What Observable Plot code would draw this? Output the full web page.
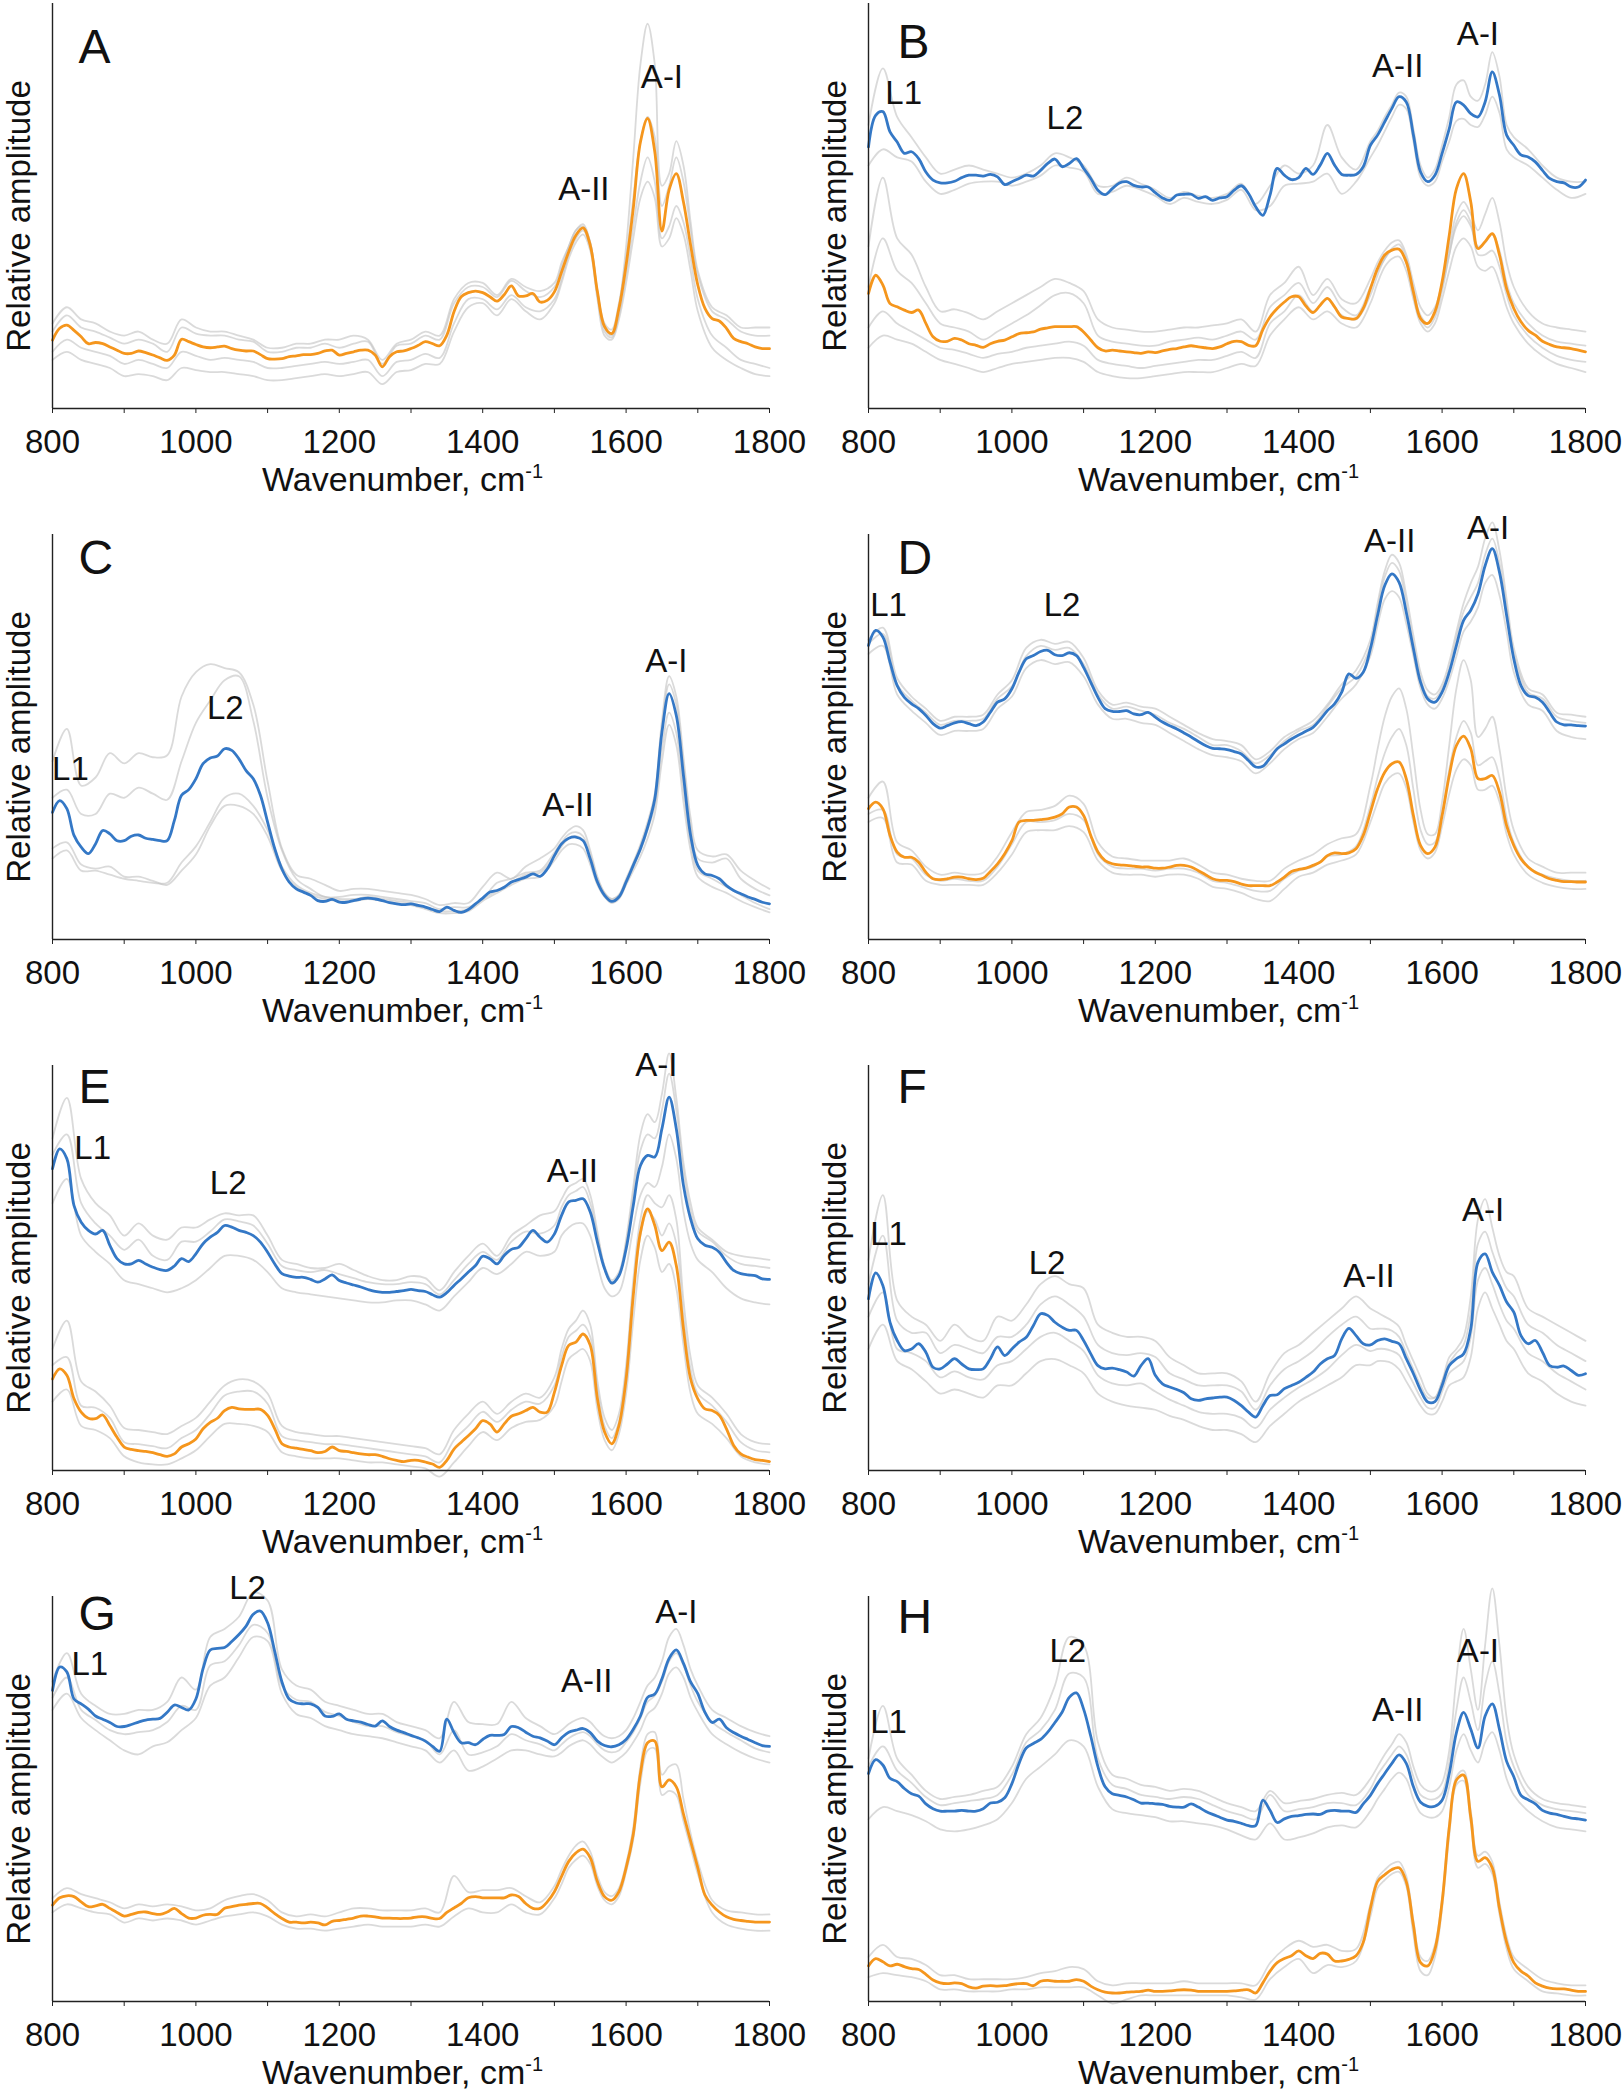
<!DOCTYPE html>
<html><head><meta charset="utf-8">
<script src="https://cdn.jsdelivr.net/npm/d3@7"></script>
<script src="https://cdn.jsdelivr.net/npm/@observablehq/plot@0.6"></script>
<style>
body{margin:0;background:#fff;}
#chart{position:relative;width:1623px;height:2100px;background:#fff;}
.panel{position:absolute;}
.panel svg{overflow:visible;}
</style></head><body><div id="chart"></div>
<script>
// Wavenumber grids (cm-1): mean spectra every 10, individual spectra on a coarser grid
const WN = d3.range(800, 1801, 10);
const GX = [...d3.range(800, 1501, 20), ...d3.range(1510, 1701, 10), ...d3.range(1720, 1801, 20)];

// ---- Panel A ----
const aO = [16.9,19.8,20.6,19.3,17.7,16.0,16.3,16.0,15.2,14.4,13.6, 13.6,14.2,13.8,13.2,12.5,11.9,13.2,17.1,16.5,15.8, 15.2,15.0,15.2,15.4,14.8,14.4,14.2,14.2,13.3,12.3, 12.2,12.3,12.8,13.0,13.3,13.3,13.6,14.2,14.4,13.2, 13.6,14.0,14.4,14.4,13.2,10.3,12.8,14.0,14.2,14.8, 15.6,16.5,16.0,15.5,18.1,23.9,27.6,28.6,29.0,28.6, 27.6,26.5,28.1,30.3,27.8,27.8,28.4,26.3,26.7,28.8, 33.7,38.7,42.8,44.6,40.3,28.8,20.2,18.5,24.7,35.4, 49.4,65.8,71.6,63.4,43.8,54.0,58.0,51.0,40.3,30.5, 24.7,22.2,21.6,19.8,17.3,16.5,16.0,15.2,14.8,14.8];
const gA1 = [21,25,22,21,19,18,19,17,16,22, 20,19,19,18,17,15,15,16,16,17, 17,18,17,12,16,17,19,18,27,31, 31,28,32,30,29,31, 36,40,44,45,41,29,20,18,25,40, 62,85,95,85,55,58,66,60,46,34, 25,23,20,20,20];
const gA2 = [14,17,15,14,13,11,12,11,10,14, 13,12,12.5,12,11.5,10,10,10.5,11,11.5, 11,11.5,12,8,11.5,12,13.5,12.5,21,27, 27,24.5,28,25,24,27, 32,38,42,44,40,28,19,17.5,23,33, 45,56,62,56,42,45,50,46,37,27, 18,15,12,11,10];
const gA3 = [12,14,12,11,10,8,8.5,8,7,10, 9.5,9,9,8.5,8,7,7,7.5,8,8.5, 8,8.5,9,6,9,9.5,11,11,19,25, 26,23,27,24,22,26, 31,37,41,43,39,27,18,17,22,31, 42,52,56,52,40,42,47,43,34,24, 15,12,10,8.5,8];
const gA4 = [19,23,20,19,17.5,16,17,16,14,20, 18.5,18,18,17,16.5,14,14,15,15,16, 15,16,16.5,11,15.5,16,18,17,26,30, 30,27.5,31.5,29,27.5,30, 35,40,44,45.5,41,29,21,19.5,26,37, 52,66,72,67,50,55,62,56,44,33, 24,22,19,18,18];
const labA = [["A-II",1541,51.4],["A-I",1650,79.2]];

// ---- Panel B ----
const bB = [64.6,72.4,73.3,68.3,65.8,63.0,63.4,61.7,58.4,56.4,55.7, 55.7,56.1,57.0,57.6,57.6,57.4,57.8,57.2,55.3,56.0, 56.8,57.6,57.4,58.8,60.5,61.6,59.7,60.5,61.7,59.3, 56.8,53.9,52.8,54.3,55.7,56.0,55.1,54.7,54.7,53.3, 52.0,51.4,52.7,52.9,52.9,51.9,52.3,51.4,52.0,52.3, 53.9,55.0,53.1,49.8,47.7,52.7,59.3,57.6,56.5,57.0, 59.3,57.8,60.1,63.0,60.1,57.8,57.6,57.8,59.7,65.0, 67.5,70.8,74.1,77.0,75.7,67.5,58.4,56.0,57.6,63.0, 69.1,75.7,74.9,72.8,72.0,75.7,83.1,77.4,67.5,65.0, 62.6,62.1,60.9,58.8,56.8,56.0,55.7,54.7,54.7,56.4];
const bO = [28.4,32.9,30.5,25.9,25.1,24.3,23.7,24.3,21.0,17.7,16.6, 16.6,17.3,16.9,16.0,15.6,15.1,16.0,16.6,16.9,17.7, 18.5,18.7,18.9,19.6,19.9,20.2,20.2,20.2,20.2,18.9, 16.9,15.0,14.2,14.4,14.2,14.0,13.8,13.6,14.0,13.8, 14.2,14.6,14.8,15.2,15.5,15.2,15.0,14.8,15.2,16.0, 16.6,16.5,15.6,15.5,19.5,22.6,24.7,26.3,27.6,27.6, 25.3,23.7,25.5,27.2,25.1,22.6,22.2,22.2,24.7,29.6, 34.6,37.9,39.1,39.3,36.2,28.8,22.2,21.0,23.9,31.3, 42.8,54.3,58.0,51.0,39.5,41.2,43.2,37.9,29.6,24.7, 21.4,19.3,18.1,16.6,15.8,15.2,15.0,14.8,14.4,14.0];
const gB1 = [70,84,72,67,62,58,59,60,59,58, 57,58,60,63,62,60,55,55,57,55.5, 54,52,53.5,52.5,52,53,55.5,50.5,55,60, 58,60,70,62,59,66, 68.5,72,75,78,77,69,60,57,59,65, 72,80,81,77,76,80,88,82,70,67, 64,60,57,56,56];
const gB2 = [60,64,62,61,56,53,54,55.5,56,56, 55,56,57.5,60,59.5,58.5,53,53.5,55,54, 52.5,50.5,52,51,50.5,51.5,54,49,50,55, 55.5,56,58,53,56,62, 65,68.5,72,75,74,66,57,55,56,61, 66,71,71.5,70,69.5,72.5,77,73,64,62, 60,57,54,52,53];
const gB3 = [40,57,42,38,30,24,24.5,23.5,22,24, 26,28,30,32,31,29,22,20,19.5,19, 19,19.5,20,20,20.5,21,22,19,28,31, 35,28,32,27,26,32, 36,39,41,41.5,38,31,25,23,25,31, 40,48,51,48,44,48,52,46,36,30, 24,21,20,19.5,19];
const gB4 = [30,42,34,31,26,21,20,19,17,19, 21,23,25.5,28,28.5,26,18,16.5,16,15.5, 15.5,16.5,17,17.5,17,18,19,17,25,28, 31,26,30,25,23,30, 34,37,39.5,40.5,37,29,23,21,24,30, 38,45,47.5,45,40,41,43,39,31,26, 21,18,16.5,16,15.5];
const gB5 = [15,18,17,16,14,12,11,10,9,10, 11,11.5,12,12.5,12.5,11.5,9,8,7.5,7.5, 8,8.5,9,9,9,10,11,10.5,18,22, 25,22,24,21,20,26, 31,35,37,37.5,34,27,21,19,21,27, 34,40,42,40,35,34,35,31,25,21, 16,13,11,10,9];
const gB6 = [20,24,21,19,17,15,14.5,13.5,12.5,13.5, 14,15,15.5,16,16.5,15.5,12,11,10.5,10, 10.5,11,11.5,12,12,13,14,12.5,21,24, 28,24,27,23,22,28, 33,37,39,39.5,36,28,22,20,22.5,29, 38,46,49,46,38,38,39,35,28,23, 18,15,13,12,11.5];
const labB = [["L1",849,75.3],["L2",1074,69.1],["A-II",1538,81.9],["A-I",1650,89.7]];

// ---- Panel C ----
const cB = [31.4,34.3,32.3,25.7,22.8,21.2,23.6,26.9,26.1,24.4,24.4, 25.5,25.8,25.0,24.7,24.4,24.4,29.4,35.6,37.0,39.7, 43.4,44.8,45.3,47.1,46.7,44.6,41.7,39.7,35.6,29.0, 22.4,17.4,14.2,12.5,11.7,10.9,9.6,9.4,9.9,9.2, 9.2,9.6,10.0,10.2,10.0,9.6,9.1,8.8,8.6,8.8, 8.4,8.0,7.4,6.9,8.0,7.2,6.7,7.4,8.8,10.2, 11.7,12.1,12.9,14.2,14.8,15.4,16.2,15.6,17.4,20.7, 23.6,25.0,25.3,24.4,19.9,14.2,10.9,9.4,10.5,14.2, 18.3,22.4,27.7,34.7,51.2,60.7,55.3,40.5,25.7,18.3, 16.2,15.8,15.0,13.3,12.1,11.3,10.5,9.9,9.2,8.8];
const gC1 = [44,52,38,40,46,43.5,46,45,45.5,60, 66,68,67,66,58,39,22.5,16,15,13.5, 12,12.5,12.5,12,11.5,11,10,8.5,9,9, 13,16.5,15,18,20,22.5, 25,27,28,27,22,15.5,11.5,10,11,15, 19,23.5,29,36,54,65,60,45,30,22, 20.5,21,17,14.5,12.5];
const gC2 = [35,37,31,31,36,35,37.5,36,34.5,44, 53.5,59,64,65,54,35,22,15,12.5,10.5, 10.5,11,11,10.5,10,9.5,9,7.5,8,8, 10,14,15,16.5,17,21.5, 24,26,26.5,25.5,21,15,11.5,10,11,14.5, 18.5,23,28,35,52,63,58,43,28,20, 19,20,15,12.5,10.9];
const gC3 = [22.5,24,18.5,17.5,18,15.5,15.5,14.5,13.5,17, 21,28,33,33,31,25.5,17,13,11,10, 9.5,9.5,10,9.5,9,8.5,7.5,6.5,6.5,7, 9.5,11.5,13.5,15,15.5,19.5, 22,23.5,23.5,22.5,18.5,13.5,10.5,9,10,13.5, 17,20.5,25,31,44,53,48,34,22,15.5, 13,11.5,9.5,8,6.7];
const gC4 = [20,22,17,17,16,15,14.5,14,14,19, 23,29,35,36,33,27,18,13.5,11.5,10.5, 10,10,10.5,10,9.5,9,8,7,7,7.5, 10,12,14,16,16.5,20.5, 23,25,25.5,24.5,20,14,11,9.5,10.5,14, 18,22,27,33,47,56,51,37,24,17, 15,13,11,9,7.5];
const labC = [["L1",825,39.3],["L2",1041,54.5],["A-II",1519,30.6],["A-I",1656,66.0]];

// ---- Panel D ----
const dB = [72.6,76.3,74.7,68.5,62.7,59.8,58.2,57.0,55.3,53.3,52.2, 52.8,53.5,53.8,53.3,52.8,53.7,56.1,58.6,59.4,61.9, 66.0,69.3,70.1,71.1,71.4,70.3,70.1,70.8,70.1,67.2, 63.5,59.8,57.0,56.3,56.3,56.5,55.7,55.5,56.1,54.9, 53.7,52.8,52.0,51.0,50.0,48.9,47.9,47.2,47.1,46.9, 46.4,45.8,44.2,42.6,42.8,44.8,47.1,48.3,49.5,50.5, 51.4,52.4,54.3,56.5,58.2,61.1,65.6,64.5,66.0,71.8, 80.0,87.4,90.3,88.2,80.8,71.8,63.5,59.4,58.6,61.1, 66.0,72.6,78.8,81.3,85.3,92.3,96.5,90.7,80.0,69.3, 62.7,60.2,59.8,58.6,56.1,53.7,53.0,53.0,52.8,52.7];
const dO = [32.3,33.9,32.3,25.7,21.6,20.3,20.3,19.1,16.6,15.0,14.8, 15.0,15.4,15.4,15.0,14.8,15.1,16.8,18.7,21.2,24.4, 29.0,29.4,29.4,29.6,29.8,30.2,31.0,32.7,32.7,30.6, 25.7,21.6,19.5,18.7,18.4,18.3,18.1,17.9,17.9,17.6, 17.6,17.9,18.3,18.3,17.9,17.0,16.0,15.0,14.6,14.6, 14.3,13.7,13.3,13.3,13.3,13.3,14.2,15.4,16.8,17.3, 17.6,18.3,19.1,20.7,21.4,21.2,21.4,22.4,25.7,31.4, 37.2,41.3,43.4,43.8,39.7,30.6,23.2,21.2,22.8,30.6, 40.5,47.9,50.2,47.1,39.7,39.7,40.5,36.4,28.1,23.2, 19.9,17.9,16.6,15.8,15.0,14.6,14.3,14.3,14.2,14.2];
const gD1 = [74,77,64.5,60,57,54,55,55,55.5,60.5, 64,72,74,73,73.5,69.5,61.5,58,58.5,57.5, 57,55,53,51,49.5,49,48,44.5,46.5,50, 52,54,58,63,66.5,74, 83,91,95,93,85,75,66,61.5,60.5,63, 68.5,76,83,88,92,99,103,96,84,72, 62,60.5,56,55.5,55];
const gD2 = [70.5,72.5,60.5,56.5,53.5,50.5,51.5,51.5,52,57, 60,67,69,68,68.5,65,58,54.5,54.5,53.5, 53,51,49,47,45.5,45,44,41,43.5,47, 49.5,51,55,59.5,63,70, 77.5,84,86,84.5,78,70,62,58,57,59.5, 64,70,76,78.5,82,88,90,85,76,66, 58,56.5,51.5,50,49.5];
const gD3 = [73,75.5,63,59,56,53,54,54,54.5,59.5, 62.5,70,72.5,71.5,72,68,60.5,57,57.5,56.5, 55.5,53.5,52,50,48,48,46.5,43.5,45.5,49, 51.5,53,57.5,62,65,72.5, 81.5,89.5,93,91,83,73,64.5,60,59.5,62, 67,74.5,81,84.5,88,95,99,93,82,70.5, 61,59.5,55,54,53.5];
const gD4 = [35,39,24,22,18,16,16.5,16,16.5,20.5, 26.5,31.5,32,33,35.5,33.5,24,20.5,20,19.5, 19.5,19.5,20,18.5,16.5,16,15,14.5,14.5,17.5, 19.5,21,23.5,25,26,38, 47,55,60,62,57,45,32,26,26,34, 48,62,69,64,50,52,55,47,35,27, 20,18,16.5,16.5,16.5];
const gD5 = [31,32,21,20,16,14.5,15,14.5,14.5,18, 23.5,29,29,29.5,31,29.5,21,18,17.5,17.5, 17,17.5,17.5,16.5,14.5,14,13,12,12,15, 17,18,20.5,21,23,33, 40,46,50,52,48,37,27,23.5,24,31, 42,50,54,51,43,44,45,40,30,24, 18,16,15,14.5,14.5];
const gD6 = [29,30,19,18.5,14.5,13.5,13.5,13.5,13.5,16.5, 21,26.5,27,27,28,26.5,19.5,16.5,16,16, 15.5,16,16,15,13,12.5,11.5,10,9.5,12.5, 15.5,16.5,18.5,19.5,21,29, 34,38.5,40.5,41,37.5,29,22,20,21.5,28, 36,42,44.5,43,37,37,38,34,26,21, 16,14,13,12.5,12.5];
const labD = [["L1",828,80],["L2",1070,80],["A-II",1527,95.6],["A-I",1664,98.8]];

// ---- Panel E ----
const eB = [74.5,79.4,77.0,65.4,61.3,59.3,58.4,59.3,55.6,52.3,51.0, 51.0,51.9,51.0,50.2,49.6,49.4,50.5,52.3,51.6,53.5, 56.0,57.6,58.8,60.5,60.1,59.3,58.8,58.0,56.4,53.9, 51.0,48.6,48.0,47.7,47.7,47.2,46.5,47.3,48.3,46.9, 46.3,45.8,45.3,44.7,44.2,44.0,44.0,44.2,44.4,44.7, 44.4,44.2,43.4,42.8,43.9,45.7,47.3,49.0,50.6,52.9, 52.3,51.0,53.1,54.6,55.1,57.2,59.3,57.6,56.4,58.4, 63.0,66.3,66.7,67.1,63.8,56.4,49.8,46.3,48.1,54.7, 65.4,75.3,77.8,77.4,84.4,92.2,84.4,70.4,62.1,57.2, 55.6,55.1,53.9,51.4,49.4,48.6,48.3,48.1,47.3,47.2];
const eO = [22.6,25.1,23.5,17.7,14.4,12.9,12.8,13.7,11.1,8.2,5.8, 5.2,4.9,4.7,4.4,3.9,3.5,4.1,5.8,6.6,7.8, 10.3,11.9,12.9,14.8,15.6,15.2,15.1,15.1,15.1,13.6, 10.3,6.6,5.8,5.5,5.2,4.9,4.4,4.7,5.8,4.9, 4.7,4.4,4.1,3.9,3.9,3.5,2.9,2.5,2.2,2.5, 2.5,2.1,1.6,0.8,2.5,5.3,7.0,8.6,10.3,12.3, 11.5,9.5,11.5,13.4,14.0,14.8,15.6,14.4,14.4,19.3, 25.9,30.9,31.7,33.7,30.9,17.7,9.5,6.6,11.1,22.6, 43.2,58.8,64.6,60.5,54.3,56.4,50.6,35.0,22.6,17.7, 15.2,14.8,13.6,10.3,6.2,4.1,3.3,2.7,2.5,2.2];
const gE1 = [82,92,72,66,63,58,61,58,57,60, 60,62,63.5,63,63,58,52,51,50,50, 51,49.5,48,47,47,48,47.5,44.5,49,53, 56,53,58,60.5,63,64, 67,70,71,72,68,59,50,46,48,57, 70,83,88,86,93,103,92,76,66,60, 57,54,53,52.5,52];
const gE2 = [66,72,58,54,51,47,46,45,44,45, 47,50,53,53,52,49,45,44,43.5,43, 42.5,42,41.5,41.5,42,42,41,39.5,43,46.5, 50,48.5,51,54,53,54, 58,60,61,61,58,51,45,43,44,50, 60,68,71,70,75,83,77,64,56,52, 49,45,42.5,41.5,41];
const gE3 = [78,83,66,61,58,54.5,57,53,52,56.5, 56.5,59,62,61.5,60.5,56,50.5,49.5,49,49.5, 48.5,47.5,46.5,46,46,46.5,46,43.5,47,51, 54,52,56.5,59,58.5,60.5, 65,68,69,70,66,58,50.5,47,49,56, 68,79,83,82,89,98,89,74,64,59, 56.5,53,51,50.5,50];
const gE4 = [30,37,22,19.5,16,10.5,10,9.5,9,11, 13,17,21,22.5,22,19,11,9.5,9,8.5, 8.5,8,7.5,7,6.5,6,5.5,4,10,14, 17,14,17,19,18,23, 30,35,37,39.5,36,22,13,10,14,26, 47,62,68,66,65,68,62,42,28,21, 18,14,9,7,6.5];
const gE5 = [17,20,11,10,8,3.5,2,1.5,1.5,3, 5,8.5,11.5,11.5,11,9.5,4.5,3.5,3,3, 3,2.5,2,2,1.5,1,0.5,-1.5,2,6, 9.5,7.5,10.5,12,12.5,16, 22,27.5,29,30,27,15,7.5,5,9,19, 37,52,58,55,49,51,45,31,19,14, 11.5,8,3.5,2,1.5];
const gE6 = [26,28,16,15.5,13,7,6.5,6,5.5,8, 10,14,18.5,19.5,19.5,16.5,8.5,7.5,7,6.5, 6.5,6,5.5,5,4.5,4,3.5,2,7.5,11, 14.5,12,15,17,16.5,21, 28,33,34.5,36,33,20,11,8,12,24, 44,58,64,62,58,61,56,38,25,19, 16,12,7,5,4.5];
const labE = [["L1",856,77],["L2",1045,68.3],["A-II",1525,71.2],["A-I",1642,97.5]];

// ---- Panel F ----
const fB = [42.4,48.8,45.7,36.6,32.1,29.6,30.0,31.3,29.2,25.5,25.1, 26.3,27.6,26.3,25.1,24.9,25.1,27.6,30.5,28.4,30.0, 31.7,32.9,35.8,38.7,38.3,36.6,35.4,34.6,34.6,32.1, 28.8,25.9,25.1,25.3,24.9,24.3,23.3,25.9,27.6,23.5, 21.4,20.6,20.0,19.2,17.7,17.3,17.7,17.9,18.1,18.1, 17.3,16.0,14.4,13.2,16.0,18.5,18.7,20.2,21.0,21.8, 23.0,24.3,26.3,27.6,28.4,32.5,35.1,33.3,31.3,31.0, 32.1,32.5,31.9,31.3,27.6,23.9,19.8,16.9,17.0,21.0, 25.9,27.6,28.8,35.0,51.4,53.5,49.0,45.7,41.6,39.1, 33.3,31.3,32.1,29.2,25.9,25.5,25.8,24.7,23.5,23.9];
const gF1 = [52,68,42,38,36,32,36,33,32,38, 37,41,46,48,46,45,36,34,33,33, 32,28,26,24,24,24,22,17,24,29, 31,34,37,40,43,40, 39,38,37,35.5,31,27,23,19,18,22, 28,30,33,43,62,67,60,53,49,48, 40,38,36,34,32];
const gF2 = [30,36,27,25,22,19,20,19,18,21, 21,24,27,27.5,26,24,19,17,16,15.5, 15,13.5,12.5,11,10,10,9,7,11,14, 17,19,21,23,26,26, 27,27,26.5,25,22,19,16,14,14,17, 21,22,23,28,40,44,40,36,32,30, 24,22,19,17,16];
const gF3 = [46,58,37,34,34,29,31,30,29,33, 33,36,41,43,41,38,31,29,28.5,29, 28,24,22.5,21,21,21,19.5,15,21,25, 27,29.5,33,36,38,35, 35,35,34.5,33,29,25,21,18,18,22, 26.5,29,31,39,56,59,54,49,45,43, 36,34,31,29,27];
const gF4 = [38,44,30,29,27,23,24.5,23,22.5,26, 27,30,33,34,32,29.5,23.5,21.5,21,21.5, 19.5,17.5,16,14.5,14,14,13,10.5,15,18, 20.5,22.5,25,28.5,31,29.5, 30,30,29.5,28.5,25,21.5,18,15.5,15.5,19.5, 24,25.5,27,33,47,50,46,41,37,35, 29,27,24,22,20];
const labF = [["L1",828,55.6],["L2",1049,48.6],["A-II",1498,45.3],["A-I",1657,61.7]];

// ---- Panel G ----
const gBl = [76.8,82.6,81.4,74.7,73.5,72.2,70.5,69.7,68.9,67.9,67.9, 68.4,69.0,69.5,69.7,69.9,71.4,73.2,72.6,72.0,74.7, 82.2,86.8,87.2,87.4,88.9,90.6,92.7,95.6,96.4,93.5, 86.4,78.9,74.7,73.7,73.5,73.5,72.6,70.5,70.4,71.0, 69.7,69.3,69.0,68.4,68.0,69.3,67.9,67.0,66.4,65.7, 65.1,64.3,63.0,61.8,69.7,66.4,63.9,63.9,63.4,64.7, 65.7,65.7,65.9,67.9,67.6,66.5,65.5,65.1,64.3,63.4, 65.1,66.5,67.0,67.4,66.4,64.3,63.2,62.9,63.4,64.7, 67.2,70.5,75.1,75.9,79.7,84.7,86.8,83.5,78.9,76.0, 71.4,68.9,69.7,67.6,66.4,65.5,64.7,63.9,63.2,63.0];
const gOr = [23.8,25.6,26.1,25.9,24.6,23.4,23.6,24.0,23.0,22.0,21.1, 21.5,22.0,22.1,21.7,21.5,22.1,23.0,21.7,20.6,20.6, 21.3,21.5,21.5,23.0,23.4,23.8,24.0,24.2,24.2,23.1, 21.7,20.5,19.6,19.6,19.4,19.6,19.4,18.9,19.8,20.0, 20.3,20.6,21.1,21.1,20.9,20.6,20.6,20.5,20.5,20.6, 20.9,20.9,20.5,20.5,22.0,23.1,24.2,25.6,25.9,25.6, 25.6,25.6,25.6,26.3,25.9,24.2,23.0,23.0,24.6,27.1, 30.9,34.6,36.7,37.6,35.5,29.6,25.9,25.0,27.1,33.0, 41.3,56.3,63.9,64.3,53.0,54.7,53.0,46.3,39.6,33.0, 26.3,23.8,22.1,20.9,20.3,20.0,19.8,19.6,19.6,19.6];
const gG1 = [79,86,76,73,71,71,72,72,74,80, 77,90,92,95,101,99,82,78,77,74, 73,72,71,71,69,68,67,65,74,69, 68.5,68.5,74,70,68,66, 67,68.5,69.5,70,69,67,65.5,65,65.5,67, 70,74,78,80,84,90,92,88,82,78, 72,70,68,66.5,65.5];
const gG2 = [72,76,70,67,64.5,62,61,63,64,67, 70,78,80,85,90,89,76,71,70,68, 67,66,65.5,65,64,63,62,59,62,57, 58,60,62,62,61,60.5, 61.5,63,64,64.5,63.5,61.5,60,59,60,61.5, 64,67,71,72.5,76,81,82.5,80,75,71.5, 66,63.5,61.5,60,59];
const gG3 = [75,80,72,69.5,67,66,66.5,67,69,73, 72,83,84,88,93,91,78,74.5,74,71.5, 70.5,69,68,68,66.5,65.5,64.5,61,67,61, 61.5,63,66,64.5,63.5,62, 63.5,65,66,66.5,65.5,63.5,62,61.5,62,64, 66.5,70,74,75.5,79,84,86,83,78,74, 69,66.5,64.5,62.5,61.5];
const gG4 = [25.5,28,26.5,25.5,24.5,23,24,23.5,24,23.5, 22.5,23,25,26,26.5,25,22,21,21.5,21, 22,23,23,22.5,22.5,22.5,23,22,31,27, 27.5,27.5,28,26,24.5,28.5, 32.5,36,38.5,39.5,37,31,27,26,28,34, 43,58,66,66.5,56,58,58.5,50,41.5,34.5, 25,22.5,22,21.5,21.5];
const gG5 = [22,24,23,22,21.5,19.5,20.5,20,20.5,20, 19,20,21,21.5,22,21,19,18,18,17.5, 18,18.5,19,18.5,18.5,18.5,19,18.5,21,23, 22,22,24,22,21.5,25.5, 29,33,35,36,34,28.5,25,24,26,32, 40,54,62,62.5,51,52,51,44.5,38,31.5, 22,19,18,17.5,17.5];
const labG = [["L1",852,80.6],["L2",1072,99.3],["A-II",1545,76.4],["A-I",1670,93.5]];

// ---- Panel H ----
const hB = [56.3,59.7,58.4,55.1,54.3,52.6,51.3,50.7,48.8,47.6,47.0, 47.0,47.0,47.2,47.0,47.0,47.6,49.0,49.2,50.3,53.8, 58.8,62.6,63.7,64.7,66.5,68.9,71.4,75.1,76.2,72.2, 65.5,58.0,53.0,51.3,50.9,50.5,49.8,49.0,49.0,48.8, 48.7,48.2,48.0,48.0,48.8,48.0,47.0,46.2,45.5,44.8, 44.5,44.0,43.4,43.4,49.7,47.2,44.2,45.1,45.7,45.9, 46.2,46.3,46.2,47.0,47.2,47.0,47.0,46.7,48.8,50.9, 53.8,56.3,58.8,60.9,58.8,53.0,49.2,48.2,48.2,49.7, 56.3,66.4,71.4,67.2,62.6,70.5,73.5,67.2,59.3,55.5, 50.9,49.8,48.8,47.2,46.5,46.2,45.7,45.3,45.1,44.8];
const hO = [8.8,10.6,9.8,8.8,9.2,8.6,8.1,7.9,6.7,5.3,4.6, 4.4,4.6,4.4,3.6,3.3,3.8,3.9,3.8,3.9,4.2, 4.4,4.4,3.9,5.0,5.2,5.0,5.0,5.0,5.4,5.0, 3.8,2.9,2.3,2.1,2.1,2.3,2.4,2.5,2.8,2.5, 2.5,2.6,2.8,2.9,2.8,2.5,2.5,2.5,2.5,2.5, 2.6,2.8,2.9,2.1,4.6,7.5,9.6,10.6,11.3,12.5, 11.3,10.6,11.9,11.7,10.0,10.0,10.4,11.3,14.6,23.0, 29.6,31.3,32.6,33.0,29.6,18.8,9.6,8.8,12.9,24.6, 43.0,54.7,55.9,45.5,34.6,35.5,33.0,23.0,14.6,9.6, 7.5,6.3,4.6,3.8,3.3,3.1,3.1,2.8,2.5,2.5];
const gH1 = [60,73,60,56,52,50,50.5,51,52,53, 58,66,70,78,90,88,64,56,55,53.5, 53,52,52.5,52,50.5,49,48,47,52,49, 49.5,50,51,51.5,51,55, 58,61,63.5,66,64,58,53.5,52,52,54, 62,80,92,82,72,88,102,88,70,61, 53,50,49,48.5,48];
const gH2 = [45,48,47,46,44.5,42.5,42,42.5,43.5,45, 49,55,58,61,64.5,63,53,47.5,46.5,46, 45.5,44.5,44.5,44,43.5,42.5,41,40,44,40, 40.5,41.5,43,43.5,43,47, 50,52.5,55,56.5,55,50,46.5,45.5,45.5,47, 53,62,66,62,59,64,66.5,62,55,51, 47,44.5,43,42.5,42];
const gH3 = [58,63,57,54,50.5,48.5,49,49.5,50,51, 56,64,67,72,81,80,60,53.5,52.5,51, 50.5,50,50.5,50,48.5,47,46,45,51,47, 47.5,48,49,49,48.5,52.5, 56,58.5,61,63,61,55.5,51,50,50,51.5, 59,72,80,74,67,78,84,76,64,58, 51,48.5,47.5,47,46.5];
const gH4 = [11,14,11,10.5,9,6.5,6.5,5.5,5.5,5.5, 5.5,6,7,7.5,8.5,8,5,4,4.5,4.5, 4.5,4.5,5,4.5,4.5,4.5,4.5,4,9.5,13, 15,13.5,14,12.5,13,24, 30.5,32.5,34,34.5,31,20,11,10,14,25.5, 44,55.5,57,47,36,37,34.5,24.5,16,11, 8,5.5,4.5,4,4];
const gH5 = [6,7,6.5,6,5,3,3,2.5,2.5,2.5, 3,3,3.5,3.5,3.5,3.5,1.5,-0.5,0.5,1.5, 1.5,1.5,1.5,1.5,1.5,1.5,1,0.5,5.5,8.5, 10.5,7,9,8.5,10,21, 28,30,31.5,32,28.5,16.5,7.5,6.5,11,23, 41,53.5,54.5,44,33,34,31.5,21.5,13,8, 5,2.5,2,1.5,1.5];
const labH = [["L1",828,66.4],["L2",1078,83.9],["A-II",1538,69.3],["A-I",1650,83.9]];

// ---- styling / layout ----
const BLUE = "#3478c6", ORANGE = "#f5961d", GRAY = "#c2c2c2", INK = "#111";
const FONT = '"Liberation Sans", Arial, Helvetica, sans-serif';
const PANELS = [
  {letter:"A", col:0, row:0, ly:59, lines:[[aO,ORANGE]], grays:[gA1,gA2,gA3,gA4], labels:labA},
  {letter:"B", col:1, row:0, ly:54, lines:[[bB,BLUE],[bO,ORANGE]], grays:[gB1,gB2,gB3,gB4,gB5,gB6], labels:labB},
  {letter:"C", col:0, row:1, ly:39, lines:[[cB,BLUE]], grays:[gC1,gC2,gC3,gC4], labels:labC},
  {letter:"D", col:1, row:1, ly:39, lines:[[dB,BLUE],[dO,ORANGE]], grays:[gD1,gD2,gD3,gD4,gD5,gD6], labels:labD},
  {letter:"E", col:0, row:2, ly:37, lines:[[eB,BLUE],[eO,ORANGE]], grays:[gE1,gE2,gE3,gE4,gE5,gE6], labels:labE},
  {letter:"F", col:1, row:2, ly:37, lines:[[fB,BLUE]], grays:[gF1,gF2,gF3,gF4], labels:labF},
  {letter:"G", col:0, row:3, ly:33, lines:[[gBl,BLUE],[gOr,ORANGE]], grays:[gG1,gG2,gG3,gG4,gG5], labels:labG},
  {letter:"H", col:1, row:3, ly:36, lines:[[hB,BLUE],[hO,ORANGE]], grays:[gH1,gH2,gH3,gH4,gH5], labels:labH}
];

const chart = document.getElementById("chart");
for (const p of PANELS) {
  const width = p.col === 0 ? 811 : 807;
  const grayData = p.grays.flatMap((g, gi) => g.map((v, j) => ({x: GX[j], y: v, k: gi})));
  const lineMarks = p.lines.map(([vals, color]) =>
    Plot.line(vals.map((v, j) => ({x: WN[j], y: v})), {x: "x", y: "y", stroke: color, strokeWidth: 2.8, curve: "catmull-rom"}));
  const lab = p.labels.map(([t, x, y]) => ({t, x, y}));
  const svg = Plot.plot({
    width, height: 531,
    marginLeft: 52, marginRight: width - 52 - 717, marginTop: 3, marginBottom: 123,
    style: {fontFamily: FONT, color: INK, background: "transparent", overflow: "visible"},
    x: {domain: [800, 1800], label: null},
    y: {domain: [0, 100], axis: null},
    marks: [
      Plot.line(grayData, {x: "x", y: "y", z: "k", stroke: GRAY, strokeOpacity: 0.6, strokeWidth: 1.8, curve: "catmull-rom"}),
      ...lineMarks,
      Plot.ruleX([800], {stroke: "#222", strokeWidth: 1.4}),
      Plot.ruleY([0], {stroke: "#222", strokeWidth: 1.4}),
      Plot.axisX({ticks: d3.range(800, 1801, 100), tickFormat: d => d % 200 === 0 ? String(d) : "",
        tickSize: 5, tickPadding: 16, fontSize: 33, label: null, stroke: "#222", fill: INK}),
      Plot.text(lab, {x: "x", y: "y", text: "t", fontSize: 33, lineAnchor: "bottom", textAnchor: "middle", fill: INK}),
      Plot.text([p.letter], {text: d => d, frameAnchor: "top-left", dx: p.col === 0 ? 26 : 29, dy: p.ly,
        fontSize: 48, textAnchor: "start", lineAnchor: "bottom", fill: INK}),
      Plot.text(["Relative amplitude"], {text: d => d, frameAnchor: "left", rotate: -90, dx: -23, dy: 10,
        fontSize: 33, textAnchor: "middle", lineAnchor: "bottom", fill: INK})
    ]
  });
  // x-axis title with superscript
  const t = d3.select(svg).append("text")
    .attr("x", 262).attr("y", 491).attr("text-anchor", "start")
    .attr("font-family", FONT).attr("font-size", 34).attr("fill", INK);
  t.append("tspan").text("Wavenumber, cm");
  t.append("tspan").attr("font-size", 20).attr("dy", -13).text("-1");

  const div = document.createElement("div");
  div.className = "panel";
  div.style.left = (p.col === 0 ? 0 : 816) + "px";
  div.style.top = (p.row * 531) + "px";
  div.appendChild(svg);
  chart.appendChild(div);
}
</script>
</body></html>
